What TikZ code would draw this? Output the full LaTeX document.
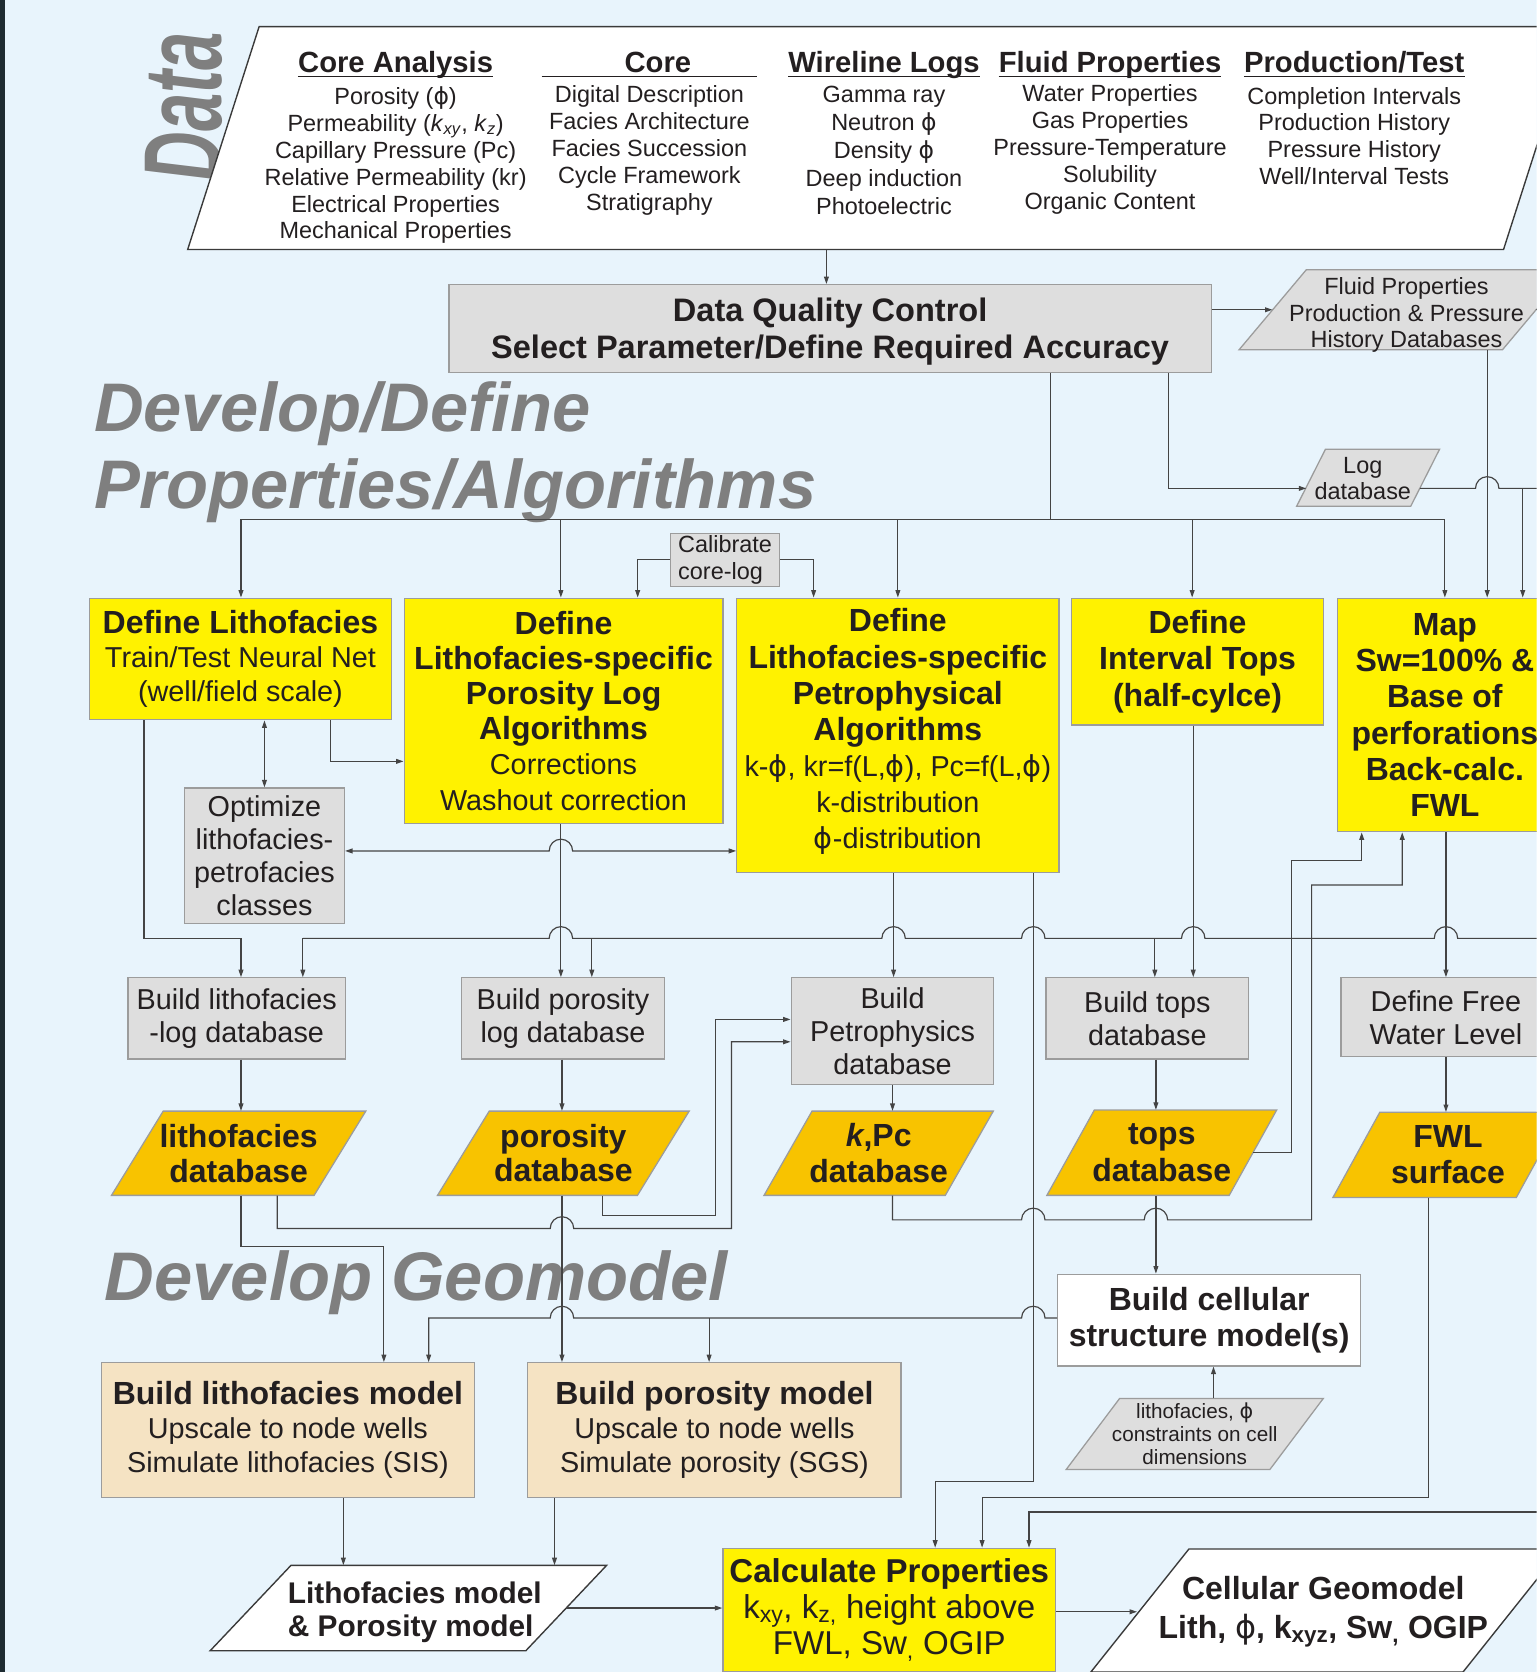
\documentclass[tikz,border=0pt]{standalone}
\usepackage{fontspec}
\setmainfont{Liberation Sans}
\newfontfamily\phfont{DejaVu Sans}
\usetikzlibrary{arrows.meta}

\definecolor{bgblue}{HTML}{E8F4FC}
\definecolor{edgeblk}{HTML}{1E2B31}
\definecolor{ybg}{HTML}{FFF200}
\definecolor{obg}{HTML}{F8C300}
\definecolor{gbg}{HTML}{DEDEDE}
\definecolor{tbg}{HTML}{F5E3C3}
\definecolor{boxline}{HTML}{9C9C9C}
\definecolor{linec}{HTML}{444444}
\definecolor{darkline}{HTML}{3A3A3A}
\definecolor{headgray}{HTML}{7F7F7F}
\definecolor{ink}{HTML}{231F20}

\newcommand\ph{{\phfont ϕ}}
\newcommand\bt[1]{{\bfseries\fontsize{30}{33}\selectfont #1}}
% jumps over a vertical line, left-to-right and right-to-left
\newcommand\jmp[2]{-- ({#1-11},#2) arc[start angle=180,end angle=0,radius=11pt]}
\newcommand\jml[2]{-- ({#1+11},#2) arc[start angle=0,end angle=180,radius=11pt]}
% parallelogram: style, cx, cy, edge length, height, slant
\newcommand\pgram[6]{\draw[#1] ({#2-#4/2-#6/2},{#3+#5/2}) -- ({#2-#4/2+#6/2},{#3-#5/2}) -- ({#2+#4/2+#6/2},{#3-#5/2}) -- ({#2+#4/2-#6/2},{#3+#5/2}) -- cycle;}

\begin{document}
\begin{tikzpicture}[x=1pt, y=-1pt,
	box/.style={draw=boxline, line width=1.2pt, align=center, inner sep=0pt, text=ink},
	ybox/.style={box, fill=ybg},
	gbox/.style={box, fill=gbg},
	tbox/.style={box, fill=tbg},
	wbox/.style={box, fill=white},
	dbtext/.style={align=center, inner sep=0pt, text=ink},
	wpg/.style={fill=white, draw=darkline, line width=1.3pt},
	gpg/.style={fill=gbg, draw=boxline, line width=1.2pt},
	opg/.style={fill=obg, draw=boxline, line width=1.2pt},
	link/.style={draw=linec, line width=1.1pt},
	arr/.style={link, -{Triangle[length=7pt, width=4.5pt]}},
	biarr/.style={link, {Triangle[length=7pt, width=4.5pt]}-{Triangle[length=7pt, width=4.5pt]}},
	heading/.style={text=headgray, inner sep=0pt, font=\fontsize{64.5}{64}\selectfont\bfseries\itshape},
	hdr/.style={anchor=base, inner sep=0pt, text=ink, font=\fontsize{27.4}{30}\selectfont\bfseries},
	uline/.style={draw=ink, line width=1.3pt},
	colt/.style={align=center, inner sep=0pt, text=ink, font=\fontsize{22}{25.2}\selectfont}]
	\useasboundingbox (0,0) rectangle (1441,1568);
	\clip (0,0) rectangle (1441,1568);
	\fill[bgblue] (0,0) rectangle (1441,1568);
	\fill[edgeblk] (0,0) rectangle (5,1568);

	% headings
	\node[heading, anchor=base west] (hdev) at (88,405) {Develop/Define};
	\node[heading, anchor=base west] (hprop) at (88,477) {Properties/Algorithms};
	\node[heading, anchor=base west] (hgeo) at (98,1220) {Develop Geomodel};
	\node[heading, rotate=90, xscale=0.62, font=\fontsize{104}{104}\selectfont\bfseries\itshape] (hdata) at (172,100) {Data};

	% data sources
	\pgram{wpg}{826.5}{129.5}{1234}{209}{67}
	\node[minimum width=1234, minimum height=209, inner sep=0pt] (data) at (826.5,129.5) {};
	\node[hdr] (hca) at (371,68) {Core Analysis};
	\node[hdr] (hcore) at (617,68) {Core};
	\node[hdr] (hwl) at (829,68) {Wireline Logs};
	\node[hdr] (hfp) at (1041,68) {Fluid Properties};
	\node[hdr] (hpt) at (1270,68) {Production/Test};
	\foreach \h in {hca,hwl,hfp,hpt}
		\draw[uline] ([yshift=-4pt]\h.base west) -- ([yshift=-4pt]\h.base east);
	\draw[uline] (508,72) -- (710,72);
	\node[colt] (cca) at (371,155) {Porosity (\ph)\\Permeability (\textit{k}\textsubscript{\textit{xy}}, \textit{k}\textsubscript{\textit{z}})\\Capillary Pressure (Pc)\\Relative Permeability (kr)\\Electrical Properties\\Mechanical Properties};
	\node[colt] (ccore) at (609,141) {Digital Description\\Facies Architecture\\Facies Succession\\Cycle Framework\\Stratigraphy};
	\node[colt, font=\fontsize{22}{26.2}\selectfont] (cwl) at (829,141) {Gamma ray\\Neutron \ph\\Density \ph\\Deep induction\\Photoelectric};
	\node[colt] (cfp) at (1041,140) {Water Properties\\Gas Properties\\Pressure-Temperature\\Solubility\\Organic Content};
	\node[colt] (cpt) at (1270,127.5) {Completion Intervals\\Production History\\Pressure History\\Well/Interval Tests};

	% quality control and databases
	\node[gbox, minimum width=715, minimum height=82] (dqc) at (778.5,308) {};
	\node[dbtext, font=\fontsize{30.5}{35}\selectfont\bfseries] (dqctxt) at (778.5,311) {Data Quality Control\\Select Parameter/Define Required Accuracy};
	\pgram{gpg}{1317}{290.5}{247}{75}{63}
	\node[minimum width=247, minimum height=75, inner sep=0pt] (fluiddb) at (1317,290.5) {};
	\node[dbtext, font=\fontsize{22}{25}\selectfont] (fluidtxt) at (1319,295.5) {Fluid Properties\\Production \& Pressure\\History Databases};
	\pgram{gpg}{1283}{448}{107}{53.4}{27}
	\node[minimum width=107, minimum height=53.4, inner sep=0pt] (logdb) at (1283,448) {};
	\node[dbtext, font=\fontsize{22}{24}\selectfont] (logtxt) at (1278,449) {Log\\database};
	\node[gbox, align=left, minimum width=102, minimum height=50, font=\fontsize{22}{25}\selectfont] (calib) at (680,525) {Calibrate\\core-log};

	% define properties / algorithms
	\node[ybox, minimum width=283, minimum height=114, font=\fontsize{27}{32}\selectfont] (deflith) at (225.5,618) {\bt{Define Lithofacies}\\Train/Test Neural Net\\(well/field scale)};
	\node[ybox, minimum width=299, minimum height=211, font=\fontsize{27}{33}\selectfont] (defpor) at (528.5,666.5) {\bt{Define}\\\bt{Lithofacies-specific}\\\bt{Porosity Log}\\\bt{Algorithms}\\Corrections\\Washout correction};
	\node[ybox, minimum width=302, minimum height=257] (defpetro) at (842,689.5) {};
	\node[dbtext, font=\fontsize{27}{33.8}\selectfont] (petrotxt) at (842,686) {\bt{Define}\\\bt{Lithofacies-specific}\\\bt{Petrophysical}\\\bt{Algorithms}\\k-\ph, kr=f(L,\ph), Pc=f(L,\ph)\\k-distribution\\\ph-distribution};
	\node[ybox, minimum width=236, minimum height=119, font=\fontsize{30}{34}\selectfont\bfseries] (deftops) at (1123,620.5) {Define\\Interval Tops\\(half-cylce)};
	\node[ybox, minimum width=202, minimum height=219, font=\fontsize{30}{34}\selectfont\bfseries] (mapfwl) at (1355,670.5) {Map\\Sw=100\% \&\\Base of\\perforations\\Back-calc.\\FWL};
	\node[gbox, minimum width=150, minimum height=127, font=\fontsize{27}{31}\selectfont] (optim) at (248,802.5) {Optimize\\lithofacies-\\petrofacies\\classes};

	% build databases
	\node[gbox, minimum width=204, minimum height=76, font=\fontsize{27}{31}\selectfont] (bldlith) at (222,955) {Build lithofacies\\-log database};
	\node[gbox, minimum width=190, minimum height=76, font=\fontsize{27}{31}\selectfont] (bldpor) at (528,955) {Build porosity\\log database};
	\node[gbox, minimum width=190, minimum height=100, font=\fontsize{27}{31}\selectfont] (bldpetro) at (837,967) {Build\\Petrophysics\\database};
	\node[gbox, minimum width=190, minimum height=76, font=\fontsize{27}{31}\selectfont] (bldtops) at (1076,955) {Build tops\\database};
	\node[gbox, minimum width=197, minimum height=74, font=\fontsize{27}{31}\selectfont] (deffwl) at (1356,954) {Define Free\\Water Level};

	\pgram{opg}{223.8}{1081.5}{190}{79}{48.5}
	\node[dbtext, font=\fontsize{30}{33}\selectfont\bfseries, minimum width=190, minimum height=79] (lithodb) at (223.8,1081.5) {lithofacies\\database};
	\pgram{opg}{528.3}{1081.5}{187.5}{79}{48.5}
	\node[dbtext, font=\fontsize{30}{32}\selectfont\bfseries, minimum width=187.5, minimum height=79] (pordb) at (528.3,1081.5) {porosity\\database};
	\pgram{opg}{824}{1081.5}{170}{79}{45}
	\node[dbtext, font=\fontsize{30}{34}\selectfont\bfseries, minimum width=170, minimum height=79] (kpcdb) at (824,1081.5) {\textit{k},Pc\\database};
	\pgram{opg}{1089.5}{1081}{171}{80}{44.5}
	\node[dbtext, font=\fontsize{30}{34}\selectfont\bfseries, minimum width=171, minimum height=80] (topsdb) at (1089.5,1081) {tops\\database};
	\pgram{opg}{1358}{1083}{172}{80}{44}
	\node[dbtext, font=\fontsize{30}{34}\selectfont\bfseries, minimum width=172, minimum height=80] (fwldb) at (1358,1083) {FWL\\surface};

	% geomodel
	\node[wbox, minimum width=284, minimum height=86, font=\fontsize{30}{34}\selectfont\bfseries] (cellstruct) at (1134,1238) {Build cellular\\structure model(s)};
	\pgram{gpg}{1120.4}{1344.8}{191}{66.5}{50}
	\node[dbtext, font=\fontsize{19.4}{21.5}\selectfont, minimum width=191, minimum height=66.5] (constr) at (1120.4,1344.8) {lithofacies, \ph\\constraints on cell\\dimensions};
	\node[tbox, minimum width=350, minimum height=126, font=\fontsize{27}{31.5}\selectfont] (litmodel) at (270,1341) {\bt{Build lithofacies model}\\Upscale to node wells\\Simulate lithofacies (SIS)};
	\node[tbox, minimum width=350, minimum height=126, font=\fontsize{27}{31.5}\selectfont] (pormodel) at (670,1341) {\bt{Build porosity model}\\Upscale to node wells\\Simulate porosity (SGS)};
	\pgram{wpg}{383}{1508}{296}{80}{75.7}
	\node[minimum width=296, minimum height=80, inner sep=0pt] (lpmodel) at (383,1508) {};
	\node[dbtext, align=left, font=\fontsize{28}{31}\selectfont\bfseries] (lptxt) at (389,1512) {Lithofacies model\\\& Porosity model};
	\node[ybox, minimum width=312, minimum height=116, font=\fontsize{31}{34}\selectfont] (calc) at (834,1510) {{\bfseries Calculate Properties}\\k\textsubscript{xy}, k\textsubscript{z,} height above\\FWL, Sw\textsubscript{,} OGIP};
	\pgram{wpg}{1243.5}{1510.3}{349}{115.4}{92}
	\node[dbtext, font=\fontsize{30}{37}\selectfont\bfseries, minimum width=349, minimum height=115.4] (cellgeo) at (1241,1511.5) {Cellular Geomodel\\Lith, {\mdseries\ph}, k\textsubscript{xyz}, Sw\textsubscript{,} OGIP};

	% connectors, top part
	\draw[arr] (data.south -| 775,0) -- (dqc.north -| 775,0);
	\draw[arr] (dqc.east |- fluiddb.west) -- (fluiddb.west);
	\draw[link] (fluiddb.east) -- ++(20,0);
	\draw[arr] (fluiddb.south -| 1394.7,0) -- (mapfwl.north -| 1394.7,0);
	\draw[arr] (dqc.south -| 1096,0) |- (1225,458);
	\draw[link] (1331.5,458) \jmp{1394.7}{458} -- (1441,458);
	\draw[arr] (1428,458) -- (mapfwl.north -| 1428,0);
	\draw[link] (dqc.south -| 985.5,0) -- (985.5,487);
	\draw[link] (226,487) -- (1355,487);
	\foreach \x/\n in {226/deflith, 526/defpor, 842/defpetro, 1118/deftops, 1355/mapfwl}
		\draw[arr] (\x,487) -- (\n.north -| \x,0);
	\draw[arr] (calib.west) -| (defpor.north -| 598,0);
	\draw[arr] (calib.east) -| (defpetro.north -| 763,0);

	% connectors, define boxes
	\draw[biarr] (deflith.south -| 248,0) -- (optim.north);
	\draw[arr] (deflith.south -| 310,0) |- (defpor.west |- 0,714);
	\draw[biarr] (optim.east |- 0,798) \jmp{526}{798} -- (defpetro.west |- 0,798);
	\draw[arr] (deflith.south -| 135,0) |- (226,880) -- (bldlith.north -| 226,0);
	\draw[link] (1441,880) \jml{1356}{880} \jml{1119}{880} \jml{969}{880} \jml{838}{880} \jml{526}{880} -- (284,880);
	\foreach \x/\n in {284/bldlith, 555/bldpor, 1083/bldtops}
		\draw[arr] (\x,880) -- (\n.north -| \x,0);
	\draw[arr] (defpor.south -| 526,0) -- (bldpor.north -| 526,0);
	\draw[arr] (defpetro.south -| 838,0) -- (bldpetro.north -| 838,0);
	\draw[arr] (defpetro.south -| 969,0) |- (877,1389) -- (calc.north -| 877,0);
	\draw[arr] (deftops.south -| 1119,0) -- (bldtops.north -| 1119,0);
	\draw[arr] (mapfwl.south -| 1356,0) -- (deffwl.north -| 1356,0);

	% connectors, databases
	\draw[arr] (bldlith.south -| 226,0) -- (lithodb.north -| 226,0);
	\draw[arr] (bldpor.south -| 527,0) -- (pordb.north -| 527,0);
	\draw[arr] (bldpetro.south -| 837,0) -- (kpcdb.north -| 837,0);
	\draw[arr] (bldtops.south -| 1084,0) -- (topsdb.north -| 1084,0);
	\draw[arr] (deffwl.south -| 1356,0) -- (fwldb.north -| 1356,0);
	\draw[arr] (topsdb.east) -| (1211,807) -| (mapfwl.south -| 1277,0);
	\draw[arr] (kpcdb.south -| 837,0) -- (837,1144) \jmp{969}{1144} \jmp{1084}{1144} -- (1230,1144) |- (1315,830) -- (mapfwl.south -| 1315,0);
	\draw[arr] (topsdb.south -| 1084,0) -- (cellstruct.north -| 1084,0);
	\draw[arr] (lithodb.south -| 260,0) -- (260,1152) \jmp{527}{1152} -- (686,1152) |- (bldpetro.west |- 0,977);
	\draw[arr] (pordb.south -| 565,0) |- (671,1140) |- (bldpetro.west |- 0,956);
	\draw[arr] (lithodb.south -| 226,0) |- (360,1169) -- (litmodel.north -| 360,0);
	\draw[arr] (pordb.south -| 527,0) -- (pormodel.north -| 527,0);

	% connectors, geomodel
	\draw[arr] (cellstruct.west |- 0,1236) \jml{969}{1236} \jml{527}{1236} -| (litmodel.north -| 402,0);
	\draw[arr] (665,1236) -- (pormodel.north -| 665,0);
	\draw[arr] (constr.north -| 1138,0) -- (cellstruct.south -| 1138,0);
	\draw[arr] (litmodel.south -| 322,0) -- (lpmodel.north -| 322,0);
	\draw[arr] (pormodel.south -| 520,0) -- (lpmodel.north -| 520,0);
	\draw[arr] (lpmodel.east) -- (calc.west |- lpmodel.east);
	\draw[arr] (fwldb.south -| 1340,0) |- (921,1404) -- (calc.north -| 921,0);
	\draw[arr] (1441,1418) -| (calc.north -| 965,0);
	\draw[arr] (calc.east |- cellgeo.west) -- (cellgeo.west);
\end{tikzpicture}
\end{document}
